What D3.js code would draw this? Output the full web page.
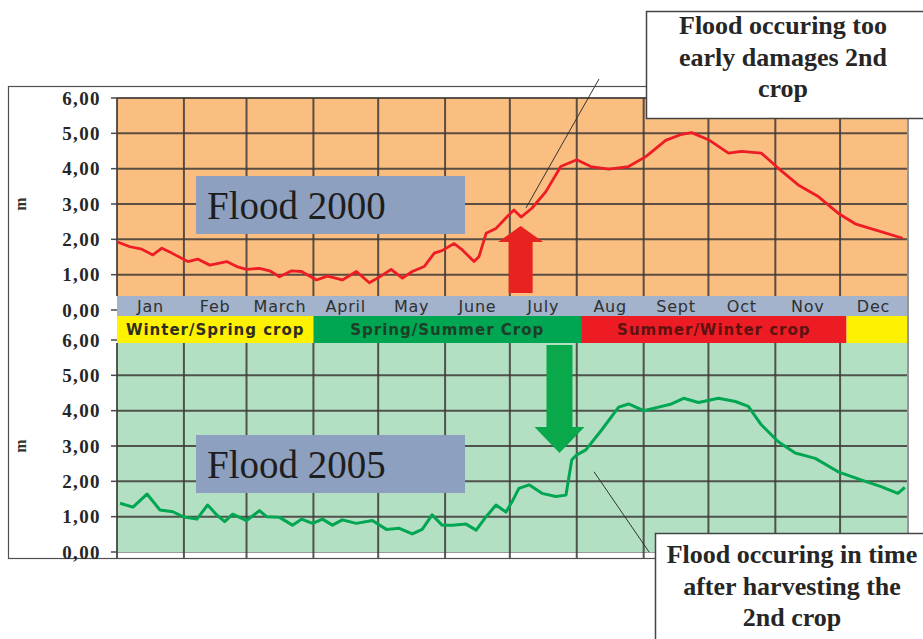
<!DOCTYPE html>
<html>
<head>
<meta charset="utf-8">
<script src="https://cdn.jsdelivr.net/npm/d3@7"></script>
<style>
  html, body { margin: 0; padding: 0; background: #fff; }
  svg { display: block; }
</style>
</head>
<body>
<svg id="chart" width="923" height="639"></svg>
<script>
// ---- data -------------------------------------------------------------
const monthNames  = ["Jan", "Feb", "March", "April", "May", "June", "July", "Aug", "Sept", "Oct", "Nov", "Dec"];
const monthStarts = [0, 31, 60, 91, 121, 152, 182, 213, 244, 274, 305, 335, 366]; // day of year

const cropNames  = ["Winter/Spring crop", "Spring/Summer Crop", "Summer/Winter crop", ""];
const cropStarts = [0, 91, 215, 338, 366];

const levelTicks = [0, 1, 2, 3, 4, 5, 6];

// water level (m) by day of year, 2000
const flood2000Days = [0, 6, 11.5, 16.6, 20.8, 25.4, 32.8, 37.4, 43, 50.8, 55.5, 60, 66, 70.7, 75.3, 80.9, 85.5,
  92.4, 97.5, 104.4, 110.9, 116.9, 121.5, 127, 132.2, 136.8, 142.3, 147, 150.6, 156.2, 160, 165.4, 167.7, 171,
  175.6, 180.7, 183.9, 187.2, 192.2, 198.7, 205.6, 213, 219.5, 227.8, 237, 245, 254.2, 261, 266.2, 274, 283.3,
  289.3, 298.5, 306.4, 315.6, 324.9, 334.1, 342, 351.2, 364];
const flood2000Levels = [1.93, 1.79, 1.72, 1.56, 1.75, 1.61, 1.37, 1.44, 1.27, 1.37, 1.23, 1.15, 1.18, 1.11, 0.94, 1.11, 1.09,
  0.85, 0.96, 0.85, 1.09, 0.77, 0.93, 1.15, 0.90, 1.09, 1.23, 1.61, 1.68, 1.88, 1.70, 1.37, 1.51, 2.17,
  2.31, 2.64, 2.83, 2.63, 2.88, 3.35, 4.06, 4.25, 4.06, 3.99, 4.06, 4.34, 4.80, 4.96, 5.02, 4.82, 4.44,
  4.49, 4.44, 4.01, 3.54, 3.21, 2.74, 2.44, 2.27, 2.03];

// water level (m) by day of year, 2005
const flood2005Days = [1.4, 7.4, 13.9, 19.9, 25.9, 30.5, 37, 42, 46.2, 49.9, 53.6, 60, 66, 69.3, 75.3, 81.3, 85.5,
  90.6, 95.2, 99.8, 104.4, 110.9, 118.3, 124.8, 130.8, 136.8, 141.4, 146, 150.6, 155.3, 161.7, 166.4, 171,
  175.6, 180.2, 183, 186.2, 190.9, 196.9, 203.3, 208, 210.7, 213, 217.2, 224.6, 232.4, 237, 244, 250.9,
  256.9, 262.5, 269.4, 278.6, 286.5, 292.5, 298.5, 306.4, 314.2, 323.5, 334.1, 344.7, 354, 361.8, 365];
const flood2005Levels = [1.38, 1.27, 1.64, 1.19, 1.14, 1.00, 0.93, 1.33, 1.05, 0.86, 1.07, 0.89, 1.17, 1.00, 0.98, 0.76, 0.93,
  0.81, 0.93, 0.76, 0.91, 0.81, 0.89, 0.64, 0.67, 0.51, 0.64, 1.05, 0.76, 0.76, 0.79, 0.62, 1.00,
  1.33, 1.13, 1.42, 1.80, 1.90, 1.66, 1.57, 1.61, 2.61, 2.75, 2.89, 3.46, 4.10, 4.19, 4.00, 4.10,
  4.19, 4.35, 4.23, 4.35, 4.26, 4.12, 3.60, 3.12, 2.80, 2.65, 2.27, 2.04, 1.85, 1.66, 1.83];

// ---- layout -----------------------------------------------------------
const W = 923, H = 639;
const plotL = 117, plotR = 907;
const bandTop = 296, bandMid = 316, bandBot = 343;

const svg = d3.select("#chart");
svg.append("rect").attr("width", W).attr("height", H).attr("fill", "#fff");

const x    = d3.scaleLinear().domain([0, 366]).range([plotL, plotR]);
const yTop = d3.scaleLinear().domain([0, 6]).range([310, 98]);
const yBot = d3.scaleLinear().domain([0, 6]).range([552, 340]);

const fmt = v => d3.format(".2f")(v).replace(".", ",");
const serif = "'Liberation Serif', 'Times New Roman', serif";
const sans  = "'DejaVu Sans', Verdana, sans-serif";
const gridColor = "#3e3a37";

// outer frame
svg.append("rect")
  .attr("x", 8.5).attr("y", 86.5).attr("width", 899.5).attr("height", 472)
  .attr("fill", "none").attr("stroke", "#505050").attr("stroke-width", 1.2);

// plot backgrounds
svg.append("rect")
  .attr("x", plotL).attr("y", yTop(6)).attr("width", plotR - plotL).attr("height", bandTop - yTop(6))
  .attr("fill", "#fbbe81");
svg.append("rect")
  .attr("x", plotL).attr("y", bandBot).attr("width", plotR - plotL).attr("height", yBot(0) - bandBot)
  .attr("fill", "#b3dfc3");

// grid: upper panel
const gTop = svg.append("g").attr("stroke", gridColor).attr("stroke-width", 2).attr("stroke-opacity", 0.85);
gTop.selectAll("line.h").data(levelTicks.filter(v => v > 0)).join("line")
  .attr("x1", plotL).attr("x2", plotR).attr("y1", d => yTop(d)).attr("y2", d => yTop(d));
gTop.selectAll("line.v").data(monthStarts.slice(1, -1)).join("line")
  .attr("x1", d => x(d)).attr("x2", d => x(d)).attr("y1", yTop(6)).attr("y2", bandTop);
gTop.append("line").attr("x1", plotL).attr("x2", plotL).attr("y1", yTop(6)).attr("y2", bandTop);

// grid: lower panel
svg.append("line").attr("x1", plotL).attr("x2", plotR).attr("y1", yBot(0) + 0.5).attr("y2", yBot(0) + 0.5)
  .attr("stroke", "#9a9a9a").attr("stroke-width", 1);
const gBot = svg.append("g").attr("stroke", gridColor).attr("stroke-width", 2).attr("stroke-opacity", 0.85);
gBot.selectAll("line.h").data([1, 2, 3, 4, 5]).join("line")
  .attr("x1", plotL).attr("x2", plotR).attr("y1", d => yBot(d)).attr("y2", d => yBot(d));
gBot.selectAll("line.v").data(monthStarts.slice(0, -1)).join("line")
  .attr("x1", d => x(d)).attr("x2", d => x(d)).attr("y1", bandBot).attr("y2", yBot(0) + 6);

// y axes (ticks + labels) for both panels
function levelAxis(scale, cy) {
  const g = svg.append("g");
  g.selectAll("line").data(levelTicks).join("line")
    .attr("x1", plotL - 6).attr("x2", plotL).attr("y1", d => scale(d)).attr("y2", d => scale(d))
    .attr("stroke", "#4a4a4a").attr("stroke-width", 1.5);
  g.selectAll("text").data(levelTicks).join("text")
    .attr("x", 101).attr("y", d => scale(d)).attr("dy", "0.35em")
    .attr("text-anchor", "end")
    .attr("font-family", serif).attr("font-weight", "bold").attr("font-size", 19)
    .attr("letter-spacing", 1.4).attr("fill", "#262626")
    .text(fmt);
  svg.append("text")
    .attr("transform", `translate(26,${cy}) rotate(-90)`)
    .attr("text-anchor", "middle")
    .attr("font-family", serif).attr("font-weight", "bold").attr("font-size", 16)
    .attr("fill", "#333").text("m");
}
levelAxis(yTop, yTop(3));
levelAxis(yBot, yBot(3));

// month band
svg.append("rect").attr("x", plotL).attr("y", bandTop).attr("width", plotR - plotL).attr("height", bandMid - bandTop)
  .attr("fill", "#a2b3cb");
svg.append("g").selectAll("text").data(monthNames).join("text")
  .attr("x", (d, i) => x((monthStarts[i] + monthStarts[i + 1]) / 2))
  .attr("y", bandMid - 4.5)
  .attr("text-anchor", "middle")
  .attr("font-family", sans).attr("font-size", 16).attr("letter-spacing", 0.8)
  .attr("fill", "#303030")
  .text(d => d);

// crop-season band
const cropFill = ["#fff200", "#00a651", "#ed1c24", "#fff200"];
const cropText = ["#2e2e22", "#1d3f2a", "#5e1212", "#333"];
const crops = cropNames.map((name, i) => ({ name, a: cropStarts[i], b: cropStarts[i + 1], i }));
svg.append("g").selectAll("rect").data(crops).join("rect")
  .attr("x", d => x(d.a)).attr("width", d => x(d.b) - x(d.a))
  .attr("y", bandMid).attr("height", bandBot - bandMid)
  .attr("fill", d => cropFill[d.i]);
svg.append("g").selectAll("text").data(crops).join("text")
  .attr("x", d => x((d.a + d.b) / 2)).attr("y", bandBot - 8)
  .attr("text-anchor", "middle")
  .attr("font-family", sans).attr("font-weight", "bold").attr("font-size", 15).attr("letter-spacing", 1)
  .attr("fill", d => cropText[d.i])
  .text(d => d.name);

// "Flood 2000" / "Flood 2005" label boxes
function yearLabel(yTopPx, text) {
  svg.append("rect").attr("x", 196).attr("y", yTopPx).attr("width", 269).attr("height", 58).attr("fill", "#8ea0bf");
  svg.append("text").attr("x", 207).attr("y", yTopPx + 43)
    .attr("font-family", serif).attr("font-size", 39).attr("fill", "#1e1e1e").text(text);
}
yearLabel(176, "Flood 2000");
yearLabel(435, "Flood 2005");

// water-level lines
const line2000 = d3.line().x(d => x(d[0])).y(d => yTop(d[1]));
const line2005 = d3.line().x(d => x(d[0])).y(d => yBot(d[1]));
svg.append("path").datum(d3.zip(flood2000Days, flood2000Levels))
  .attr("d", line2000).attr("fill", "none").attr("stroke", "#ee1c24")
  .attr("stroke-width", 2.8).attr("stroke-linejoin", "round");
svg.append("path").datum(d3.zip(flood2005Days, flood2005Levels))
  .attr("d", line2005).attr("fill", "none").attr("stroke", "#00a651")
  .attr("stroke-width", 3).attr("stroke-linejoin", "round");

// block arrows marking the flood onset
function blockArrow(cx, yBase, yTip, shaftW, headW, headLen, color) {
  const dir = yTip < yBase ? -1 : 1;
  const yNeck = yTip - dir * headLen;
  const pts = [
    [cx - shaftW / 2, yBase], [cx - shaftW / 2, yNeck], [cx - headW / 2, yNeck],
    [cx, yTip], [cx + headW / 2, yNeck], [cx + shaftW / 2, yNeck], [cx + shaftW / 2, yBase]
  ];
  svg.append("path").attr("d", d3.line()(pts) + "Z").attr("fill", color);
}
blockArrow(x(187), yTop(0.48), yTop(2.38), 24, 45, 16, "#e8231f");
blockArrow(x(205), yBot(5.86), yBot(2.80), 26, 50, 26, "#09a84b");

// leader lines to the callouts
svg.append("line").attr("x1", x(189.5)).attr("y1", yTop(2.89)).attr("x2", 599).attr("y2", 79)
  .attr("stroke", "#333").attr("stroke-width", 1);
svg.append("line").attr("x1", x(221)).attr("y1", yBot(2.27)).attr("x2", x(246.5)).attr("y2", yBot(0))
  .attr("stroke", "#333").attr("stroke-width", 1);

// callouts
function callout(bx, by, bw, bh, cx, baselines, lines) {
  svg.append("rect").attr("x", bx).attr("y", by).attr("width", bw).attr("height", bh)
    .attr("fill", "#fff").attr("stroke", "#444").attr("stroke-width", 1.5);
  svg.append("g").selectAll("text").data(lines).join("text")
    .attr("x", cx).attr("y", (d, i) => baselines[i])
    .attr("text-anchor", "middle")
    .attr("font-family", serif).attr("font-weight", "bold").attr("font-size", 26)
    .attr("fill", "#262626")
    .text(d => d);
}
callout(646.5, 11.5, 300, 107, 783, [34, 66, 97],
  ["Flood occuring too", "early damages 2nd", "crop"]);
callout(655.5, 533.5, 300, 130, 792, [563, 595, 626],
  ["Flood occuring in time", "after harvesting the", "2nd crop"]);
</script>
</body>
</html>
